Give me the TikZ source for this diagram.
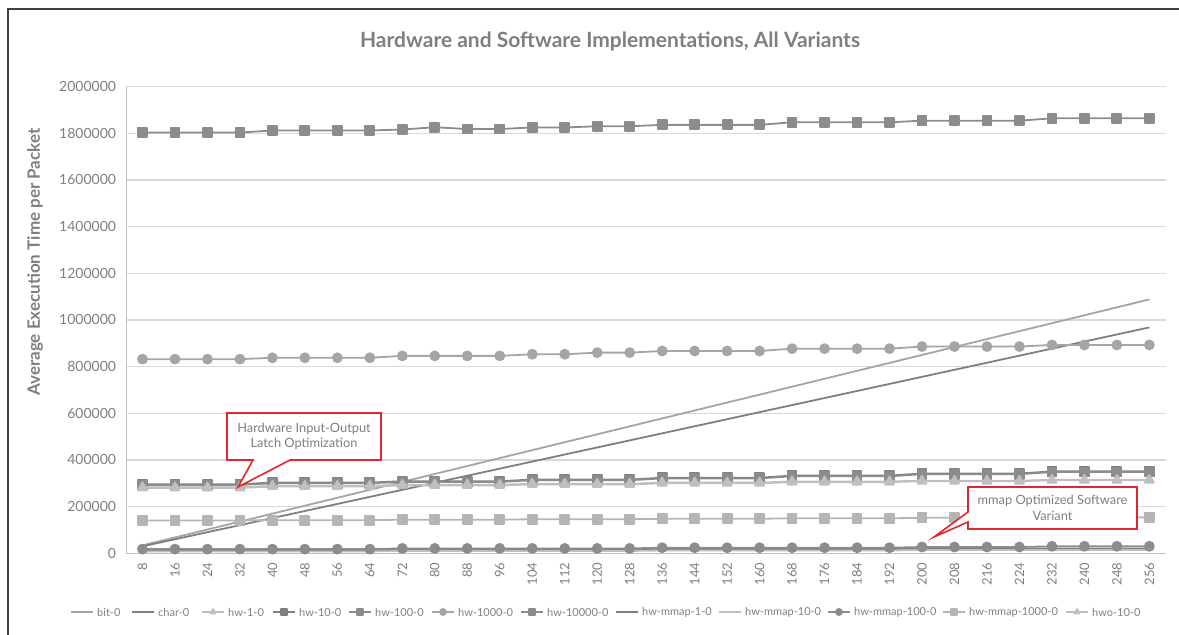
\documentclass[tikz,border=0pt]{standalone}
\usepackage{fontspec}
\setmainfont{Lato}
\usepackage{xcolor}
\usetikzlibrary{calc,plotmarks}

\definecolor{framegray}{HTML}{404040}
\definecolor{txtgray}{HTML}{7F7F7F}
\definecolor{gridgray}{HTML}{D9D9D9}
\definecolor{axisgray}{HTML}{BFBFBF}
\definecolor{notered}{HTML}{E3262D}
\definecolor{sdark}{HTML}{7F7F7F}
\definecolor{smid}{HTML}{8C8C8C}
\definecolor{slight}{HTML}{A5A5A5}
\definecolor{spale}{HTML}{BFBFBF}

\begin{document}
\begin{tikzpicture}[
	x=1pt, y=-1pt,
	grid/.style={draw=gridgray, line width=1.3pt},
	axisline/.style={draw=axisgray, line width=1.3pt},
	ticklabel/.style={text=txtgray, font=\fontsize{14}{16}\selectfont, inner sep=0pt},
	catlabel/.style={text=txtgray, font=\fontsize{13}{15}\selectfont, inner sep=0pt, rotate=90, anchor=east},
	legendtext/.style={text=txtgray, font=\fontsize{11}{13}\selectfont, inner sep=0pt, anchor=west},
	notetext/.style={text=txtgray, font=\fontsize{12.8}{15.5}\selectfont, align=center, inner sep=0pt},
	note/.style={draw=notered, fill=white, line width=1.6pt, line join=miter},
	series/.style={line width=1.8pt, line join=round, mark size=4.5pt},
	bitser/.style={series, color=slight},
	charser/.style={series, color=sdark},
	hwoneser/.style={series, color=spale, mark size=5pt},
	hwtenser/.style={series, color=sdark},
	hwhundser/.style={series, color=smid},
	hwthouser/.style={series, color=slight},
	hwbigser/.style={series, color=smid},
	mmoneser/.style={series, color=sdark},
	mmtenser/.style={series, color=spale},
	mmhundser/.style={series, color=smid},
	mmthouser/.style={series, color=spale!85!gray},
	hwoser/.style={series, color=spale, mark size=5pt}
	]
	
	\useasboundingbox (0,0) rectangle (1179,635);
	
	% chart frame
	\draw[framegray, line width=1.5pt] (8,635) -- (8,9) -- (1179,9);
	
	% title and axis title
	\node[text=txtgray, font=\fontsize{21}{25}\selectfont\bfseries] (title) at (610,41) {Hardware and Software Implementations, All Variants};
	\node[text=txtgray, font=\fontsize{17}{20}\selectfont\bfseries, rotate=90] (ylabel) at (35,262) {Average Execution Time per Packet};
	
	% plot area: x = category index, y = thousands
	\begin{scope}[shift={(110,553.3)}, x=32.48pt, y=0.23335pt]
		
		% gridlines and value labels
		\foreach \v in {200,400,...,2000}
		\draw[grid] (0.5,\v) -- (32.5,\v);
		\foreach \v/\lab in {0/0,200/200000,400/400000,600/600000,800/800000,1000/1000000,1200/1200000,1400/1400000,1600/1600000,1800/1800000,2000/2000000}
		\node[ticklabel, anchor=east] (ytick\v) at ([xshift=-10pt]0.5,\v) {\lab};
		\draw[axisline] (0.5,2000) -- (0.5,0) -- (32.5,0);
		
		% category labels
		\foreach \i in {1,...,32}{
			\pgfmathtruncatemacro{\cat}{8*\i}
			\node[catlabel] (cat\i) at ([yshift=-9pt]\i,0) {\cat};
		}
		
		% series, in legend order
		\draw[bitser] (1,34) -- (32,1088);
		\draw[charser] (1,30) -- (32,968);
		\draw[hwoneser] plot[mark=triangle*] coordinates {(1,280) (2,280) (3,280) (4,280) (5,286) (6,286) (7,286) (8,286) (9,291) (10,291) (11,291) (12,291) (13,295) (14,295) (15,295) (16,295) (17,300) (18,300) (19,300) (20,300) (21,305) (22,305) (23,305) (24,305) (25,309) (26,309) (27,309) (28,309) (29,313) (30,313) (31,313) (32,313)};
		\draw[hwtenser] plot[mark=square*] coordinates {(1,296) (2,296) (3,296) (4,296) (5,303) (6,303) (7,303) (8,303) (9,309) (10,309) (11,309) (12,309) (13,316) (14,316) (15,316) (16,316) (17,324) (18,324) (19,324) (20,324) (21,333) (22,333) (23,333) (24,333) (25,342) (26,342) (27,342) (28,342) (29,351) (30,351) (31,351) (32,351)};
		\draw[hwhundser] plot[mark=square*] coordinates {(1,293) (2,293) (3,293) (4,293) (5,300) (6,300) (7,300) (8,300) (9,306) (10,306) (11,306) (12,306) (13,313) (14,313) (15,313) (16,313) (17,321) (18,321) (19,321) (20,321) (21,330) (22,330) (23,330) (24,330) (25,339) (26,339) (27,339) (28,339) (29,348) (30,348) (31,348) (32,348)};
		\draw[hwthouser] plot[mark=*] coordinates {(1,832) (2,832) (3,832) (4,832) (5,838) (6,838) (7,838) (8,838) (9,846) (10,846) (11,846) (12,846) (13,853) (14,853) (15,860) (16,860) (17,867) (18,867) (19,867) (20,867) (21,877) (22,877) (23,877) (24,877) (25,886) (26,886) (27,886) (28,886) (29,893) (30,893) (31,893) (32,893)};
		\draw[hwbigser] plot[mark=square*] coordinates {(1,1803) (2,1803) (3,1803) (4,1803) (5,1812) (6,1812) (7,1812) (8,1812) (9,1816) (10,1826) (11,1818) (12,1818) (13,1825) (14,1825) (15,1830) (16,1830) (17,1836) (18,1836) (19,1836) (20,1836) (21,1847) (22,1847) (23,1847) (24,1847) (25,1854) (26,1854) (27,1854) (28,1854) (29,1864) (30,1864) (31,1864) (32,1864)};
		\draw[mmoneser] (1,12) -- (8,12) -- (9,15) -- (16,15) -- (17,18) -- (24,18) -- (25,21) -- (32,21);
		\draw[mmtenser] (1,8) -- (8,8) -- (9,10) -- (16,10) -- (17,12) -- (24,12) -- (25,14) -- (32,14);
		\draw[mmhundser] plot[mark=*] coordinates {(1,18) (2,18) (3,18) (4,18) (5,18) (6,18) (7,18) (8,18) (9,21) (10,21) (11,21) (12,21) (13,21) (14,21) (15,21) (16,21) (17,24) (18,24) (19,24) (20,24) (21,24) (22,24) (23,24) (24,24) (25,27) (26,27) (27,27) (28,27) (29,30) (30,30) (31,30) (32,30)};
		\draw[mmthouser] plot[mark=square*] coordinates {(1,141) (2,141) (3,141) (4,141) (5,142) (6,142) (7,142) (8,142) (9,144) (10,144) (11,144) (12,144) (13,146) (14,146) (15,146) (16,146) (17,148) (18,148) (19,148) (20,148) (21,150) (22,150) (23,150) (24,150) (25,152) (26,152) (27,152) (28,152) (29,154) (30,154) (31,154) (32,154)};
		\draw[hwoser] plot[mark=triangle*] coordinates {(1,283) (2,283) (3,283) (4,283) (5,289) (6,289) (7,289) (8,289) (9,294) (10,294) (11,294) (12,294) (13,298) (14,298) (15,298) (16,298) (17,303) (18,303) (19,303) (20,303) (21,308) (22,308) (23,308) (24,308) (25,311) (26,311) (27,311) (28,311) (29,315) (30,315) (31,315) (32,315)};
	\end{scope}
	
	% legend
	\foreach \lx/\ltext/\lstyle/\lmark [count=\k] in {97/bit-0/bitser/none, 158/char-0/charser/none, 228/hw-1-0/hwoneser/triangle*, 299/hw-10-0/hwtenser/square*, 375/hw-100-0/hwhundser/square*, 458/hw-1000-0/hwthouser/*, 547/hw-10000-0/hwbigser/square*, 642/hw-mmap-1-0/mmoneser/none, 745/hw-mmap-10-0/mmtenser/none, 854/hw-mmap-100-0/mmhundser/*, 969/hw-mmap-1000-0/mmthouser/square*, 1092/hwo-10-0/hwoser/triangle*}{
		\draw[\lstyle] (\lx-26,612) -- (\lx-4,612);
		\path[\lstyle, mark size=3pt] plot[mark=\lmark] coordinates {(\lx-15,612)};
		\node[legendtext] (leg\k) at (\lx,612) {\ltext};
	}
	
	% callout: latch optimization
	\coordinate (latchnw) at (227,413);
	\coordinate (latchse) at (381,460);
	\coordinate (latchtip) at (238,487);
	\draw[note] (latchnw) -- (latchnw -| latchse) -- (latchse) -- (290,460) -- (latchtip) -- (253,460) -- (latchnw |- latchse) -- cycle;
	\node[notetext] (latchnote) at ($(latchnw)!0.5!(latchse)$) {Hardware Input-Output\\Latch Optimization};
	
	% callout: mmap variant
	\coordinate (mmapnw) at (968,487);
	\coordinate (mmapse) at (1137,529);
	\coordinate (mmaptip) at (934,537);
	\draw[note] (mmapnw) -- (mmapnw -| mmapse) -- (mmapse) -- (mmapnw |- mmapse) -- (968,522) -- (mmaptip) -- (968,512) -- cycle;
	\node[notetext] (mmapnote) at ($(mmapnw)!0.5!(mmapse)$) {mmap Optimized Software\\Variant};
	
\end{tikzpicture}
\end{document}
